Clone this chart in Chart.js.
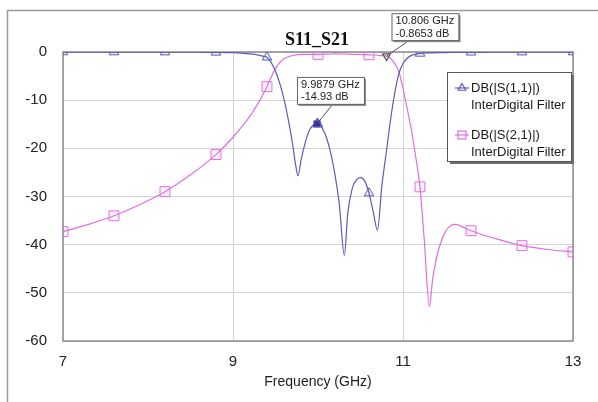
<!DOCTYPE html>
<html>
<head>
<meta charset="utf-8">
<script src="https://cdn.jsdelivr.net/npm/chart.js@4.4.1/dist/chart.umd.min.js"></script>
<style>
  html, body { margin: 0; padding: 0; background: #ffffff; }
  #wrap { width: 598px; height: 402px; position: relative; }
  canvas { display: block; }
</style>
</head>
<body>
<div id="wrap"><canvas id="chart" width="598" height="402"></canvas></div>
<script>
// Sweep frequencies (GHz) and simulated responses (dB) of the interdigital filter
const freqGHz = [
  7.0, 7.3, 7.6, 7.9, 8.2, 8.5, 8.8, 9.0, 9.1, 9.2, 9.3, 9.35, 9.4, 9.45, 9.5, 9.55,
  9.6, 9.65, 9.7, 9.74, 9.765, 9.8, 9.85, 9.9, 9.95, 9.9879, 10.0, 10.05, 10.1, 10.15,
  10.2, 10.25, 10.31, 10.35, 10.4, 10.45, 10.5, 10.55, 10.6, 10.65, 10.7, 10.75, 10.806,
  10.85, 10.9, 10.95, 11.0, 11.05, 11.1, 11.15, 11.2, 11.25, 11.31, 11.35, 11.4, 11.45,
  11.5, 11.55, 11.6, 11.65, 11.7, 11.8, 12.1, 12.4, 12.7, 13.0
];
const s11dB = [
  -0.01, -0.01, -0.01, -0.02, -0.03, -0.05, -0.08, -0.15, -0.25, -0.4, -0.65, -0.85, -1.1, -2.2, -4.0, -6.5,
  -9.8, -14.0, -19.0, -23.8, -25.7, -22.5, -18.8, -16.2, -15.1, -14.93, -14.95, -15.8, -17.8, -21.0,
  -25.5, -31.5, -42.2, -33.5, -28.5, -26.6, -26.1, -26.8, -29.3, -33.2, -37.0, -28.0, -20.5,
  -14.5, -8.8, -4.6, -2.4, -1.3, -0.7, -0.45, -0.3, -0.25, -0.2, -0.18, -0.15, -0.13,
  -0.12, -0.1, -0.1, -0.09, -0.08, -0.06, -0.04, -0.03, -0.02, -0.01
];
const s21dB = [
  -37.3, -35.8, -34.0, -31.7, -29.0, -25.5, -21.3, -17.7, -15.6, -13.3, -10.5, -8.9, -7.2, -5.2, -3.4, -2.2,
  -1.4, -1.0, -0.75, -0.6, -0.55, -0.5, -0.5, -0.5, -0.5, -0.5, -0.5, -0.48, -0.45, -0.42,
  -0.4, -0.4, -0.42, -0.45, -0.48, -0.5, -0.52, -0.55, -0.58, -0.62, -0.68, -0.75, -0.8653,
  -1.3, -2.3, -4.0, -7.6, -11.8, -16.3, -21.8, -28.0, -39.0, -52.8, -47.0, -42.3, -39.3,
  -37.3, -36.2, -35.8, -35.9, -36.3, -37.1, -38.8, -40.2, -41.0, -41.5
];

// Frequencies where trace symbols are placed
const markerFreqs = [7.0, 7.6, 8.2, 8.8, 9.4, 10.0, 10.6, 11.2, 11.8, 12.4, 13.0];

// Axis ticks
const xTicks = [7, 9, 11, 13];
const yTicks = [0, -10, -20, -30, -40, -50, -60];

// Trace names
const seriesNames = ['DB(|S(1,1)|)', 'DB(|S(2,1)|)'];
const seriesSource = 'InterDigital Filter';

// Marker readouts: which trace, frequency (GHz), value (dB)
const readoutSeries = [0, 1];
const readoutFreqs = [9.9879, 10.806];
const readoutValues = [-14.93, -0.8653];

const chartTitle = 'S11_S21';
const xTitle = 'Frequency (GHz)';

const BLUE = '#5c5cbe';
const PINK = '#e06ee0';
const SANS = '"Liberation Sans", Arial, sans-serif';

const toPoints = vals => freqGHz.map((f, i) => ({ x: f, y: vals[i] }));
const isMarker = f => markerFreqs.some(m => Math.abs(m - f) < 1e-6);

function markerRadius(r) {
  return ctx => (ctx.raw && isMarker(ctx.raw.x)) ? r : 0;
}

function drawTriangle(ctx, x, y, r, down) {
  const s = down ? -1 : 1;
  ctx.beginPath();
  ctx.moveTo(x, y - s * r);
  ctx.lineTo(x + r * 0.866, y + s * r * 0.5);
  ctx.lineTo(x - r * 0.866, y + s * r * 0.5);
  ctx.closePath();
}

// Readout box: leader line from the marked point to the box, box sized to its text
function drawReadout(ctx, px, py, bx, by, ax, lines) {
  ctx.save();
  ctx.font = '11px ' + SANS;
  const bw = Math.ceil(Math.max(...lines.map(t => ctx.measureText(t).width))) + 8;
  const bh = 27;
  ctx.strokeStyle = '#555';
  ctx.lineWidth = 1;
  ctx.beginPath();
  ctx.moveTo(px, py);
  ctx.lineTo(bx + ax, by + bh);
  ctx.stroke();
  ctx.fillStyle = '#8a8a8a';
  ctx.fillRect(bx + 2, by + 2, bw, bh);
  ctx.fillStyle = '#ffffff';
  ctx.fillRect(bx, by, bw, bh);
  ctx.strokeStyle = '#666';
  ctx.strokeRect(bx + 0.5, by + 0.5, bw, bh);
  ctx.fillStyle = '#222';
  ctx.textBaseline = 'middle';
  ctx.textAlign = 'left';
  lines.forEach((t, i) => ctx.fillText(t, bx + 4, by + 8 + i * 12.5));
  ctx.restore();
}

const decorPlugin = {
  id: 'decor',
  beforeDraw(chart) {
    const ctx = chart.ctx;
    ctx.save();
    ctx.fillStyle = '#ffffff';
    ctx.fillRect(0, 0, chart.width, chart.height);
    // outer frame
    ctx.strokeStyle = '#9a9a9a';
    ctx.lineWidth = 1.5;
    ctx.beginPath();
    ctx.moveTo(7.5, chart.height);
    ctx.lineTo(7.5, 10.5);
    ctx.lineTo(chart.width, 10.5);
    ctx.stroke();
    ctx.restore();
  },
  beforeDatasetsDraw(chart) {
    const { ctx, chartArea: a } = chart;
    ctx.save();
    ctx.strokeStyle = '#8c8c8c';
    ctx.lineWidth = 1.5;
    ctx.strokeRect(a.left, a.top, a.right - a.left, a.bottom - a.top);
    ctx.restore();
  },
  afterDatasetsDraw(chart) {
    const { ctx, scales } = chart;
    const xs = scales.x, ys = scales.y;

    // title
    ctx.save();
    ctx.fillStyle = '#111';
    ctx.font = 'bold 18px "Liberation Serif", "Times New Roman", serif';
    ctx.textAlign = 'center';
    ctx.textBaseline = 'alphabetic';
    ctx.fillText(chartTitle, 317, 45);
    ctx.restore();

    // marker readouts
    const layouts = [
      { dx: -20, dy: -47, ax: 36 },
      { dx: 5, dy: -43, ax: 18 }
    ];
    readoutFreqs.forEach((f, i) => {
      const px = xs.getPixelForValue(f);
      const py = ys.getPixelForValue(readoutValues[i]);
      const L = layouts[i];
      const lines = [f + ' GHz', readoutValues[i] + ' dB'];
      drawReadout(ctx, px, py, px + L.dx, py + L.dy, L.ax, lines);
      ctx.save();
      if (readoutSeries[i] === 0) {
        ctx.fillStyle = '#34348a';
        ctx.fillRect(px - 3.5, py - 3.5, 7, 7);
        ctx.strokeStyle = BLUE;
        ctx.lineWidth = 1;
        drawTriangle(ctx, px, py, 5.5, false);
        ctx.stroke();
      } else {
        ctx.strokeStyle = '#555';
        ctx.lineWidth = 1.2;
        drawTriangle(ctx, px, py, 4.5, true);
        ctx.stroke();
      }
      ctx.restore();
    });

    // legend
    ctx.save();
    const lx = 447, ly = 72, lw = 124, lh = 89;
    ctx.fillStyle = '#6e6e6e';
    ctx.fillRect(lx + 3, ly + 3, lw, lh);
    ctx.fillStyle = '#ffffff';
    ctx.fillRect(lx, ly, lw, lh);
    ctx.strokeStyle = '#555';
    ctx.lineWidth = 1;
    ctx.strokeRect(lx + 0.5, ly + 0.5, lw, lh);
    const colors = [BLUE, PINK];
    const rowY = [88, 135];
    ctx.font = '13px ' + SANS;
    ctx.textBaseline = 'middle';
    ctx.textAlign = 'left';
    seriesNames.forEach((name, i) => {
      const y = rowY[i];
      ctx.strokeStyle = colors[i];
      ctx.lineWidth = 1.2;
      ctx.beginPath();
      ctx.moveTo(455, y);
      ctx.lineTo(469, y);
      ctx.stroke();
      if (i === 0) {
        drawTriangle(ctx, 462, y, 4.5, false);
        ctx.stroke();
      } else {
        ctx.strokeRect(458, y - 4, 8, 8);
      }
      ctx.fillStyle = '#1a1a1a';
      ctx.fillText(name, 471, y);
      ctx.fillText(seriesSource, 471, y + 17);
    });
    ctx.restore();
  }
};

const ctx = document.getElementById('chart').getContext('2d');
new Chart(ctx, {
  type: 'line',
  data: {
    datasets: [
      {
        label: seriesNames[0],
        data: toPoints(s11dB),
        borderColor: BLUE,
        borderWidth: 1.2,
        backgroundColor: 'rgba(255,255,255,0)',
        pointStyle: 'triangle',
        pointRadius: markerRadius(5.5),
        pointBorderColor: BLUE,
        pointBorderWidth: 1,
        pointBackgroundColor: 'rgba(92,92,190,0.08)',
        cubicInterpolationMode: 'monotone',
        fill: false
      },
      {
        label: seriesNames[1],
        data: toPoints(s21dB),
        borderColor: PINK,
        borderWidth: 1.2,
        backgroundColor: 'rgba(255,255,255,0)',
        pointStyle: 'rect',
        pointRadius: markerRadius(7),
        pointBorderColor: PINK,
        pointBorderWidth: 1,
        pointBackgroundColor: 'rgba(224,110,224,0.08)',
        cubicInterpolationMode: 'monotone',
        fill: false
      }
    ]
  },
  plugins: [decorPlugin],
  options: {
    responsive: false,
    animation: false,
    devicePixelRatio: 1,
    layout: { padding: { top: 52, right: 25, left: 0, bottom: 0 }, autoPadding: false },
    plugins: {
      legend: { display: false },
      title: { display: false },
      tooltip: { enabled: false }
    },
    events: [],
    scales: {
      x: {
        type: 'linear',
        min: 7,
        max: 13,
        afterBuildTicks: s => { s.ticks = xTicks.map(v => ({ value: v })); },
        afterFit: s => { s.height = 61; },
        grid: { color: '#d4d4d4', lineWidth: 1, drawTicks: false },
        border: { display: false },
        ticks: {
          padding: 12,
          color: '#222',
          font: { family: SANS, size: 15 },
          maxRotation: 0,
          callback: v => String(v)
        },
        title: {
          display: true,
          text: xTitle,
          color: '#222',
          font: { family: SANS, size: 14 },
          padding: { top: 0, bottom: 11 }
        }
      },
      y: {
        type: 'linear',
        min: -60,
        max: 0,
        afterBuildTicks: s => { s.ticks = yTicks.map(v => ({ value: v })); },
        afterFit: s => { s.width = 63; },
        grid: { color: '#d4d4d4', lineWidth: 1, drawTicks: false },
        border: { display: false },
        ticks: {
          padding: 16,
          color: '#222',
          font: { family: SANS, size: 15 },
          callback: v => String(v)
        }
      }
    }
  }
});
</script>
</body>
</html>
